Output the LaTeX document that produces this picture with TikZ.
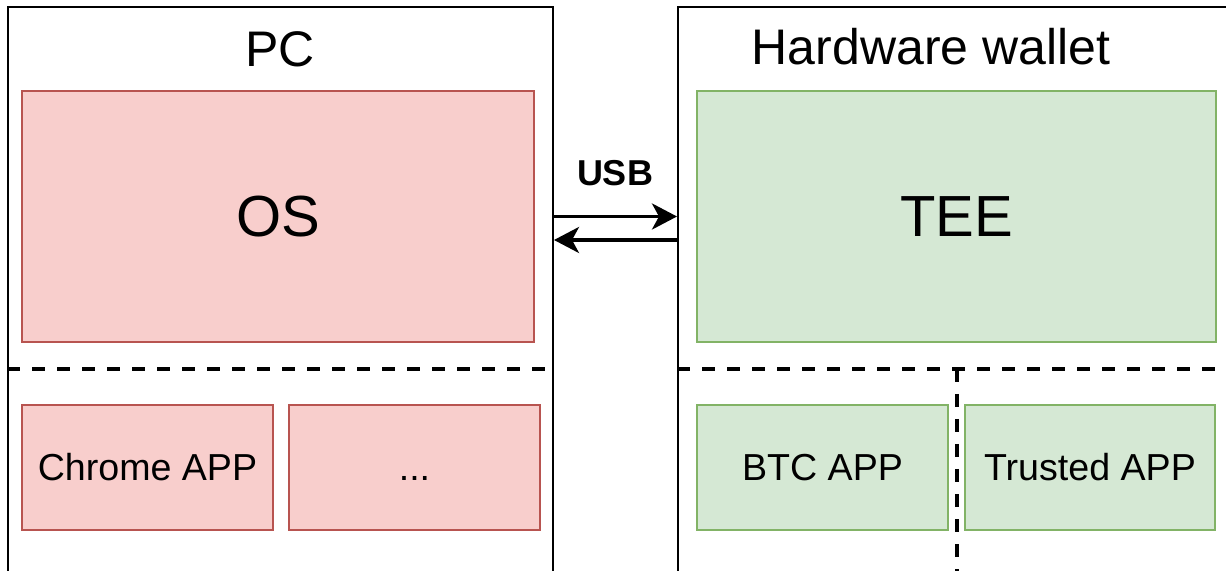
\documentclass[tikz,border=0pt]{standalone}
\usepackage{fontspec}
\setmainfont{Liberation Sans}
\usetikzlibrary{arrows.meta}
\definecolor{pinkfill}{HTML}{F8CECC}
\definecolor{pinkline}{HTML}{B85450}
\definecolor{greenfill}{HTML}{D5E8D4}
\definecolor{greenline}{HTML}{82B366}
\begin{document}
\begin{tikzpicture}[x=0.5pt,y=-0.5pt,
  outerbox/.style={draw=black,line width=1pt,rectangle,inner sep=0pt,minimum height=296.5pt},
  pinkbox/.style={draw=pinkline,fill=pinkfill,line width=0.8pt,rectangle,inner sep=0pt},
  greenbox/.style={draw=greenline,fill=greenfill,line width=0.8pt,rectangle,inner sep=0pt},
  bigbox/.style={minimum height=125.5pt,font=\fontsize{29}{34}\selectfont},
  appbox/.style={minimum width=125.5pt,minimum height=62.5pt,font=\fontsize{18.8}{22}\selectfont},
  titletext/.style={anchor=base,inner sep=0pt,font=\fontsize{25}{30}\selectfont},
  sepline/.style={draw=black,line width=1.9pt,dash pattern=on 6.5pt off 6pt},
  arr/.style={draw=black,line width=1.75pt,-{Stealth[length=12.5pt,width=13pt,inset=3.5pt]}},
  usbtext/.style={anchor=base,inner sep=0pt,font=\fontsize{18}{21}\selectfont\bfseries}]
\useasboundingbox (0,0) rectangle (1226,571);
\clip (0,0) rectangle (1226,571);
\fill[white] (0,0) rectangle (1226,571);
% outer boxes
\node[outerbox,minimum width=272.5pt] (pc) at (280.5,303.5) {};
\node[outerbox,minimum width=281pt] (hw) at (959,303.5) {};
% titles
\node[titletext] (pct) at (280,67) {PC};
\node[titletext] (hwt) at (931,65) {Hardware wallet};
% main areas
\node[pinkbox,bigbox,minimum width=256pt] (os) at (278,216.5) {OS};
\node[greenbox,bigbox,minimum width=259.5pt] (tee) at (956.5,216.5) {TEE};
% separators
\coordinate (sepy) at (0,369);
\coordinate (sepx) at (957,0);
\draw[sepline] (pc.west |- sepy) -- (pc.east |- sepy);
\draw[sepline] (hw.west |- sepy) -- (hw.east |- sepy);
\draw[sepline] (sepx |- sepy) -- (sepx |- hw.south);
% apps
\node[pinkbox,appbox] (chrome) at (147.5,467.5) {Chrome APP};
\node[pinkbox,appbox] (more) at (414.5,467.5) {\vphantom{A}...};
\node[greenbox,appbox] (btc) at (822.5,467.5) {BTC APP};
\node[greenbox,appbox,minimum width=125pt] (trusted) at (1090,467.5) {Trusted APP};
% USB link
\node[usbtext] (usb) at (615,186) {USB};
\coordinate (ya) at (0,216.5);
\coordinate (yb) at (0,240);
\draw[arr] (pc.east |- ya) -- (hw.west |- ya);
\draw[arr] (hw.west |- yb) -- (pc.east |- yb);
\end{tikzpicture}
\end{document}
